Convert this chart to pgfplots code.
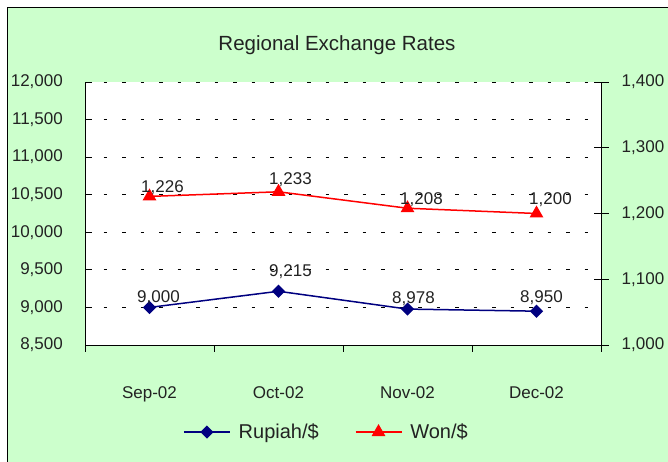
\documentclass[border=0pt]{standalone}
\usepackage{pgfplots}
\pgfplotsset{compat=1.18}
\usepackage{pgfplotstable}
\usepackage{fontspec}
\setmainfont{Liberation Sans}
\definecolor{bggreen}{HTML}{CCFFCC}
\definecolor{navyblue}{HTML}{000080}
\definecolor{txt}{HTML}{222222}
\pgfplotstableread{
x y dx dy
0 9000 9 10
1 9215 12 20
2 8978 6 10
3 8950 5 14
}\rupiah
\pgfplotstableread{
x y dx dy
0 1226 13 9
1 1233 12 12
2 1208 14 9
3 1200 14 14
}\won
\pgfplotsset{base/.style={
  at={(85pt,117pt)}, anchor=south west, scale only axis, width=516pt, height=263pt,
  xmin=-0.5, xmax=3.5, scaled y ticks=false,
  /pgf/number format/.cd, fixed, precision=0, 1000 sep={,}, assume math mode=true, /pgfplots/.cd,
  tick label style={font=\fontsize{17}{20}\selectfont, text=txt},
  axis line style={black, line width=0.8pt},
  every tick/.style={black, line width=0.8pt},
  clip=false,
},
labels/.style={
  nodes near coords,
  visualization depends on={\thisrow{dx}\as\dx},
  visualization depends on={\thisrow{dy}\as\dy},
  nodes near coords style={font=\fontsize{17}{20}\selectfont, text=txt, anchor=center, xshift=\dx pt, yshift=\dy pt},
}}
\begin{document}
\begin{tikzpicture}[x=1pt,y=1pt]
\useasboundingbox (0,0) rectangle (668,462);
\fill[white] (0,0) rectangle (668,462);
\fill[bggreen] (7,0) rectangle (668,455);
\draw[black, line width=1.5pt] (7.5,0) -- (7.5,454.5) -- (668,454.5);
\node[font=\fontsize{20.5}{24}\selectfont, text=txt] at (337,417) {Regional Exchange Rates};
\begin{axis}[base,
  ymin=8500, ymax=12000, ytick={8500,9000,...,12000},
  axis x line*=bottom, axis y line*=left,
  xtick={-0.5,0.5,1.5,2.5,3.5}, xticklabels={},
  extra x ticks={0,1,2,3}, extra x tick labels={Sep-02,Oct-02,Nov-02,Dec-02},
  extra x tick style={major tick length=0pt, xticklabel style={anchor=base, yshift=-54pt}},
  xtick align=outside, ytick align=inside, major tick length=7pt,
  ymajorgrids, major grid style={black, line width=0.8pt, dash pattern=on 3.5pt off 15pt},
  axis background/.style={fill=white},
  yticklabel style={anchor=east, inner sep=0pt, xshift=-22pt},
]
\addplot[labels, navyblue, line width=1.5pt, mark=square*, mark size=3.9pt, mark options={rotate=45, fill=navyblue}] table[x=x,y=y] {\rupiah};
\end{axis}
\begin{axis}[base,
  ymin=1000, ymax=1400, ytick={1000,1100,...,1400},
  axis x line=none, axis y line*=right,
  ytick align=center, major tick length=15pt,
  yticklabel style={anchor=west, inner sep=0pt, xshift=13pt},
  legend columns=2,
  legend style={at={(0.466,-0.331)}, anchor=center, draw=none, fill=none,
    font=\fontsize{20}{24}\selectfont, text=txt, inner sep=0pt,
    nodes={inner sep=0pt, anchor=west},
    /tikz/every even column/.append style={column sep=36pt},
    /tikz/every odd column/.append style={column sep=8pt}},
  legend image code/.code={\draw[mark repeat=2,mark phase=2,#1] plot coordinates {(0pt,0pt) (23pt,0pt) (46pt,0pt)};},
]
\addlegendimage{navyblue, line width=1.5pt, mark=square*, mark size=3.9pt, mark options={rotate=45, fill=navyblue}}
\addlegendentry{Rupiah/\$}
\addplot[labels, red, line width=1.5pt, mark=triangle*, mark size=6.5pt, mark options={fill=red}] table[x=x,y=y] {\won};
\addlegendentry{Won/\$}
\end{axis}
\end{tikzpicture}
\end{document}
